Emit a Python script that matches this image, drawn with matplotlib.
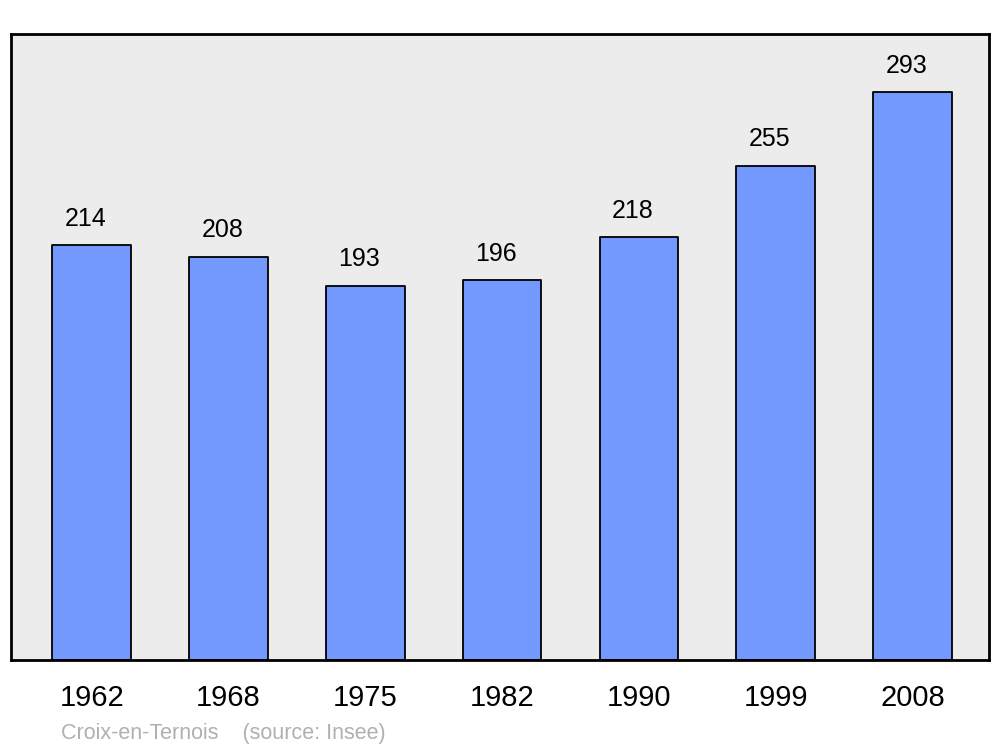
import matplotlib.pyplot as plt

years = ['1962', '1968', '1975', '1982', '1990', '1999', '2008']
population = [214, 208, 193, 196, 218, 255, 293]

plt.rcParams['font.family'] = ['Liberation Sans', 'DejaVu Sans']

fig = plt.figure(figsize=(10, 7.47), dpi=100)
ax = fig.add_axes([0.011, 1 - 660 / 747, 0.978, (660 - 34) / 747])
ax.set_facecolor('#ececec')

bars = ax.bar(range(len(years)), population, width=0.575,
              color='#7399ff', edgecolor='black', linewidth=1.3, zorder=2)
for b in bars:
    b.set_joinstyle('round')

for i, v in enumerate(population):
    ax.annotate(str(v), (i, v), xytext=(-4.5, 10.5), textcoords='offset points',
                ha='center', va='bottom', fontsize=18)

ax.set_xlim(-0.59, 6.56)
ax.set_ylim(0, 323)
ax.set_xticks(range(len(years)))
ax.set_xticklabels(years, fontsize=21)
ax.tick_params(axis='x', length=0, pad=17)
ax.set_yticks([])
for s in ax.spines.values():
    s.set_linewidth(2)
    s.set_joinstyle('round')

fig.text(0.061, 1 - 733 / 747, 'Croix-en-Ternois    (source: Insee)',
         color='#b0b0b0', fontsize=15.5, va='center')

fig.savefig('out.png', dpi=100)
